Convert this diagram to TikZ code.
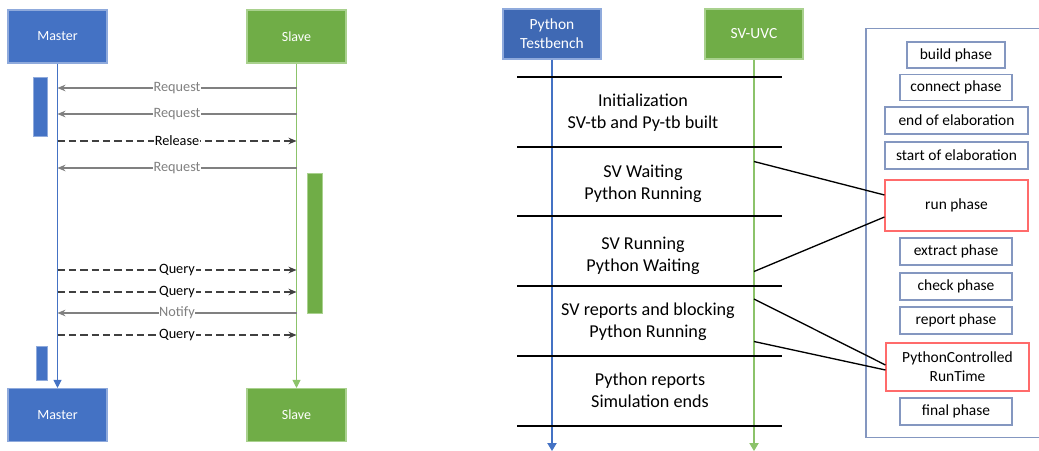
\documentclass[tikz,border=0pt]{standalone}
\usepackage{fontspec}
\setmainfont{Carlito}
\usetikzlibrary{arrows.meta}
\definecolor{mblue}{HTML}{4472C4}
\definecolor{mblueb}{HTML}{8FAADC}
\definecolor{sgreen}{HTML}{70AD47}
\definecolor{sgreenb}{HTML}{A9D18E}
\definecolor{lgreen}{HTML}{8CC36A}
\definecolor{msg}{HTML}{808080}
\definecolor{pbord}{HTML}{8497C0}
\definecolor{rbord}{HTML}{FF6B6B}
\tikzset{
  actor/.style={draw=#1b, fill=#1, line width=0.8pt, text=white, minimum width=74.25pt, minimum height=39.75pt, inner sep=0pt, align=center, font=\fontsize{10.5}{12}\selectfont},
  bar/.style={fill=#1, draw=#1b, line width=0.4pt},
  req/.style={draw=msg, line width=0.8pt, -{Stealth[length=6pt,width=5pt]}},
  rel/.style={draw=black!75, line width=0.9pt, dash pattern=on 5.5pt off 3pt, -{Stealth[length=6pt,width=5pt]}},
  lbl/.style={fill=white, inner sep=0.5pt, font=\fontsize{10.7}{12}\selectfont},
  sep/.style={draw=black, line width=1pt},
  phtext/.style={align=center, font=\fontsize{13.6}{16.5}\selectfont},
  phase/.style={draw=pbord, line width=0.8pt, inner sep=0pt, align=center, font=\fontsize{11.6}{13.5}\selectfont},
  rphase/.style={draw=rbord, line width=0.8pt, inner sep=0pt, align=center, font=\fontsize{11.6}{14}\selectfont},
  link/.style={draw=black, line width=1pt},
}
\begin{document}
\begin{tikzpicture}[x=0.75pt,y=-0.75pt]
\useasboundingbox (0,0) rectangle (1039,450);
% ---------- left diagram ----------
\node[actor=mblue] (m1) at (57.5,36.5) {Master};
\node[actor=sgreen] (s1) at (296.5,36.5) {Slave};
\node[actor=mblue] (m2) at (57.5,415) {Master};
\node[actor=sgreen] (s2) at (296.5,415) {Slave};
\draw[draw=mblue, line width=0.8pt, -{Triangle[length=6pt,width=6pt]}] (m1.south) -- (m2.north);
\draw[draw=lgreen, line width=0.8pt, -{Triangle[length=6pt,width=6pt]}] (s1.south) -- (s2.north);
\filldraw[bar=mblue] (33,77) rectangle (47,136);
\filldraw[bar=mblue] (36,346) rectangle (47,380);
\filldraw[bar=sgreen] (307,173) rectangle (322,313);
\coordinate (ma1) at (57.5,88);  \coordinate (sa1) at (296.5,88);
\coordinate (ma2) at (57.5,114); \coordinate (sa2) at (296.5,114);
\coordinate (ma3) at (57.5,141); \coordinate (sa3) at (296.5,141);
\coordinate (ma4) at (57.5,168); \coordinate (sa4) at (296.5,168);
\coordinate (ma5) at (57.5,270); \coordinate (sa5) at (296.5,270);
\coordinate (ma6) at (57.5,292); \coordinate (sa6) at (296.5,292);
\coordinate (ma7) at (57.5,313); \coordinate (sa7) at (296.5,313);
\coordinate (ma8) at (57.5,335); \coordinate (sa8) at (296.5,335);
\draw[req] (sa1) -- node[lbl, text=msg] {Request} (ma1);
\draw[req] (sa2) -- node[lbl, text=msg] {Request} (ma2);
\draw[rel] (ma3) -- node[lbl] {Release} (sa3);
\draw[req] (sa4) -- node[lbl, text=msg] {Request} (ma4);
\draw[rel] (ma5) -- node[lbl] {Query} (sa5);
\draw[rel] (ma6) -- node[lbl] {Query} (sa6);
\draw[req] (sa7) -- node[lbl, text=msg] {Notify} (ma7);
\draw[rel] (ma8) -- node[lbl] {Query} (sa8);
% ---------- middle diagram ----------
\node[actor=mblue, fill=mblue!92!black, minimum width=73.5pt, minimum height=37.5pt, font=\fontsize{11.6}{14}\selectfont] (py) at (552,34) {Python\\Testbench};
\node[actor=sgreen, minimum width=73.5pt, minimum height=37.5pt, font=\fontsize{11.6}{14}\selectfont] (sv) at (754,34) {SV-UVC};
\coordinate (pyend) at (552,451);
\coordinate (svend) at (754,451);
\draw[draw=mblue, line width=0.8pt, -{Triangle[length=6pt,width=7pt]}] (py.south) -- (pyend);
\draw[draw=lgreen, line width=0.8pt, -{Triangle[length=6pt,width=7pt]}] (sv.south) -- (svend);
\foreach \yy/\nm in {77/l1,147/l2,216/l3,286/l4,356/l5,426/l6}{
  \coordinate (\nm a) at (517,\yy); \coordinate (\nm b) at (782,\yy);
  \draw[sep] (\nm a) -- (\nm b);
}
\node[phtext] (t1) at (643,113) {Initialization\\SV-tb and Py-tb built};
\node[phtext] (t2) at (643,184) {SV Waiting\\Python Running};
\node[phtext] (t3) at (643,256) {SV Running\\Python Waiting};
\node[phtext] (t4) at (648,322) {SV reports and blocking\\Python Running};
\node[phtext] (t5) at (650,390) {Python reports\\Simulation ends};
% ---------- right diagram ----------
\draw[draw=pbord, line width=0.8pt] (1045,28.5) -- (866,28.5) -- (866,437.5) -- (1045,437.5);
\node[phase, minimum width=73.5pt, minimum height=19.5pt] (b1) at (956,55) {build phase};
\node[phase, minimum width=84pt, minimum height=19.5pt] (b2) at (956,87.5) {connect phase};
\node[phase, minimum width=107.25pt, minimum height=20.25pt] (b3) at (956.5,120.5) {end of elaboration};
\node[phase, minimum width=107.25pt, minimum height=20.25pt] (b4) at (956.5,155.5) {start of elaboration};
\node[rphase, minimum width=107.25pt, minimum height=38.25pt] (b5) at (956.5,205.5) {run phase};
\node[phase, minimum width=84pt, minimum height=20.25pt] (b6) at (956,251.5) {extract phase};
\node[phase, minimum width=84pt, minimum height=20.25pt] (b7) at (956,286.5) {check phase};
\node[phase, minimum width=84pt, minimum height=20.25pt] (b8) at (956,320.5) {report phase};
\node[rphase, minimum width=107.25pt, minimum height=36pt] (b9) at (957.5,367) {PythonControlled\\RunTime};
\node[phase, minimum width=84pt, minimum height=20.25pt] (b10) at (956,411.5) {final phase};
\coordinate (c1) at (754,161.5);
\coordinate (c2) at (754,271.5);
\coordinate (c3) at (754,299);
\coordinate (c4) at (754,341.5);
\draw[link] (c1) -- (b5.west |- 0,195);
\draw[link] (c2) -- (b5.west |- 0,217);
\draw[link] (c3) -- (b9.west |- 0,365);
\draw[link] (c4) -- (b9.west |- 0,370);
\end{tikzpicture}
\end{document}
